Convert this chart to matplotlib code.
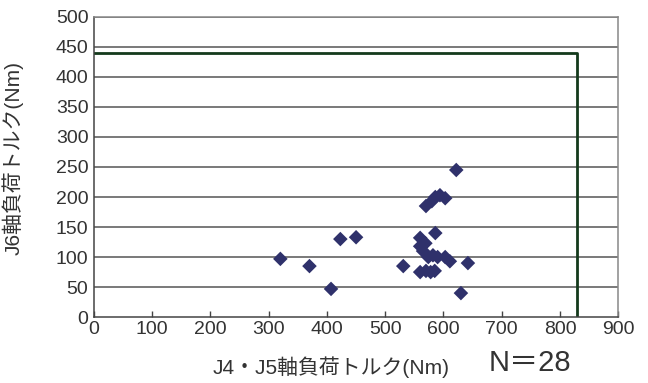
import matplotlib.pyplot as plt

plt.rcParams['font.family'] = ['Liberation Sans', 'Noto Sans CJK JP', 'DejaVu Sans']

# J4・J5 load torque (Nm) and J6 load torque (Nm)
j45_torque = [320, 370, 407, 423, 450, 531, 622, 630, 642,
              570, 580, 586, 594, 603,
              586, 560, 569, 560, 565,
              574, 582, 590, 603, 611,
              560, 570, 578, 585]
j6_torque = [97, 85, 47, 130, 133, 85, 245, 40, 90,
             185, 193, 200, 203, 198,
             140, 132, 123, 118, 110,
             100, 103, 100, 100, 93,
             75, 77, 75, 77]

# allowable range
limit_x = 830
limit_y = 440

fig = plt.figure(figsize=(6.48, 3.83), dpi=100)
ax = fig.add_axes([0.145, 0.172, 0.809, 0.784])

for yv in range(50, 501, 50):
    ax.axhline(yv, color='#555555', linewidth=1.1, zorder=1)

ax.plot([0, limit_x, limit_x], [limit_y, limit_y, 0], color='#143a1c',
        linewidth=2.0, zorder=2)

ax.scatter(j45_torque, j6_torque, marker='D', s=55, color='#2f316b',
           edgecolors='none', zorder=3)

ax.set_xlim(0, 900)
ax.set_ylim(0, 500)
ax.set_xticks(range(0, 901, 100))
ax.set_yticks(range(0, 501, 50))
ax.tick_params(axis='x', direction='in', length=4, width=1, color='#444444',
               labelsize=14, pad=3, labelcolor='#333333')
ax.tick_params(axis='y', length=0, labelsize=14, pad=4, labelcolor='#333333')

for side in ['left', 'bottom']:
    ax.spines[side].set_color('#444444')
    ax.spines[side].set_linewidth(1.1)
for side in ['top', 'right']:
    ax.spines[side].set_color('#888888')
    ax.spines[side].set_linewidth(1.1)

ax.set_ylabel('J6軸負荷トルク(Nm)', fontsize=15, color='#333333')
ax.yaxis.set_label_coords(-0.135, 0.53)
fig.text(0.511, 0.042, 'J4・J5軸負荷トルク(Nm)', fontsize=15, color='#333333',
         ha='center', va='center')
fig.text(0.818, 0.052, 'N＝28', fontsize=21, color='#333333',
         ha='center', va='center')

fig.savefig('out.png', dpi=100)
